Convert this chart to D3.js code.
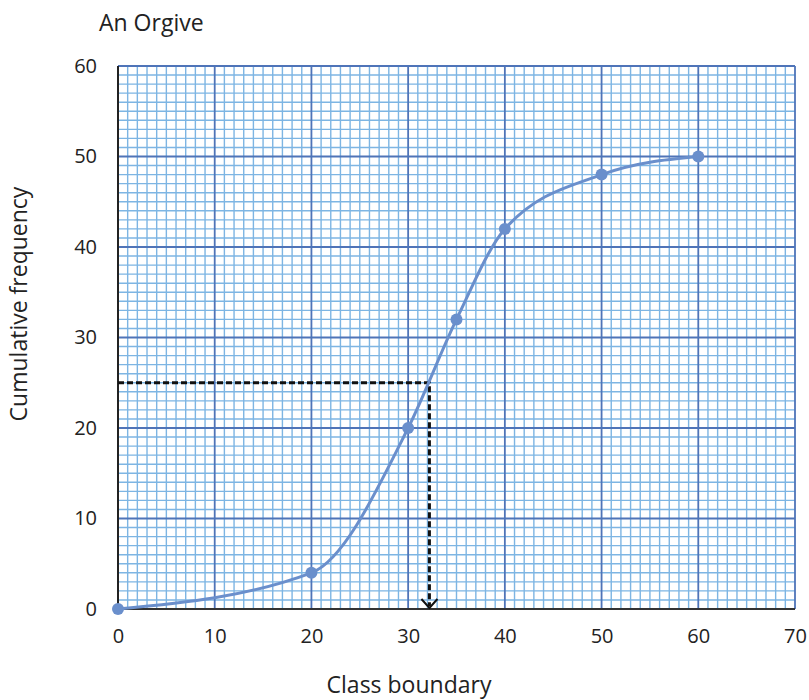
<!DOCTYPE html>
<html><head><meta charset="utf-8">
<script src="https://cdn.jsdelivr.net/npm/d3@7"></script>
<style>body{margin:0;background:#fff}</style>
</head><body>
<script>
const classBoundary = [0, 20, 30, 35, 40, 50, 60];
const cumFreq = [0, 4, 20, 32, 42, 48, 50];
const xTicks = [0, 10, 20, 30, 40, 50, 60, 70];
const yTicks = [0, 10, 20, 30, 40, 50, 60];
const medianY = 25, medianX = 32.2;

const W = 809, H = 700;
const m = {left: 118, right: 14, top: 66, bottom: 91};
const svg = d3.select("body").append("svg").attr("width", W).attr("height", H);
const x = d3.scaleLinear().domain([0, 70]).range([m.left, W - m.right]);
const y = d3.scaleLinear().domain([0, 60]).range([H - m.bottom, m.top]);
const font = "'Open Sans', 'Noto Sans', sans-serif";

const g = svg.append("g");
// minor grid
const minorX = d3.range(1, 70).filter(v => v % 10 !== 0);
const minorY = d3.range(1, 60).filter(v => v % 10 !== 0);
g.selectAll(".mx").data(minorX).join("line")
  .attr("x1", d => x(d)).attr("x2", d => x(d)).attr("y1", y(0)).attr("y2", y(60))
  .attr("stroke", "#7db5e3").attr("stroke-width", 1.4);
g.selectAll(".my").data(minorY).join("line")
  .attr("y1", d => y(d)).attr("y2", d => y(d)).attr("x1", x(0)).attr("x2", x(70))
  .attr("stroke", "#7db5e3").attr("stroke-width", 1.4);
// major grid
g.selectAll(".Mx").data(d3.range(10, 71, 10)).join("line")
  .attr("x1", d => x(d)).attr("x2", d => x(d)).attr("y1", y(0)).attr("y2", y(60))
  .attr("stroke", "#4f74b8").attr("stroke-width", 1.8);
g.selectAll(".My").data(d3.range(10, 61, 10)).join("line")
  .attr("y1", d => y(d)).attr("y2", d => y(d)).attr("x1", x(0)).attr("x2", x(70))
  .attr("stroke", "#4f74b8").attr("stroke-width", 1.8);
// axes lines
g.append("line").attr("x1", x(0)).attr("x2", x(0)).attr("y1", y(0)).attr("y2", y(60))
  .attr("stroke", "#222").attr("stroke-width", 2);
g.append("line").attr("x1", x(0)).attr("x2", x(70)).attr("y1", y(0)).attr("y2", y(0))
  .attr("stroke", "#333").attr("stroke-width", 2);

// axes tick labels via d3 axis
const xa = svg.append("g").attr("transform", `translate(0,${y(0)})`)
  .call(d3.axisBottom(x).tickValues(xTicks).tickSize(0).tickPadding(20));
const ya = svg.append("g").attr("transform", `translate(${x(0)},0)`)
  .call(d3.axisLeft(y).tickValues(yTicks).tickSize(0).tickPadding(21));
[xa, ya].forEach(a => {
  a.select(".domain").remove();
  a.selectAll("text").attr("font-family", font).attr("font-size", 20).attr("fill", "#222");
});

// dashed median lines
svg.append("path")
  .attr("d", `M${x(0)},${y(medianY)}H${x(medianX)}V${y(0) - 3}`)
  .attr("fill", "none").attr("stroke", "#111").attr("stroke-width", 3)
  .attr("stroke-dasharray", "6,3");
svg.append("path")
  .attr("d", `M${x(medianX) - 8},${y(0) - 10}L${x(medianX)},${y(0) - 1}L${x(medianX) + 8},${y(0) - 10}`)
  .attr("fill", "none").attr("stroke", "#111").attr("stroke-width", 2);

// curve
const pts = classBoundary.map((d, i) => [d, cumFreq[i]]);
svg.append("path").datum(pts)
  .attr("d", d3.line().x(d => x(d[0])).y(d => y(d[1])).curve(d3.curveMonotoneX))
  .attr("fill", "none").attr("stroke", "#6a8fcc").attr("stroke-width", 3);
svg.selectAll(".pt").data(pts).join("circle")
  .attr("cx", d => x(d[0])).attr("cy", d => y(d[1])).attr("r", 6)
  .attr("fill", "#6a8fcc");

// titles
svg.append("text").attr("x", 99).attr("y", 31).text("An Orgive")
  .attr("font-family", font).attr("font-size", 23).attr("fill", "#222");
svg.append("text").attr("x", 409).attr("y", 693).attr("text-anchor", "middle")
  .text("Class boundary").attr("font-family", font).attr("font-size", 23).attr("fill", "#222");
svg.append("text").attr("transform", `translate(27,304) rotate(-90)`)
  .attr("text-anchor", "middle").text("Cumulative frequency")
  .attr("font-family", font).attr("font-size", 23).attr("fill", "#222");
</script>
</body></html>
